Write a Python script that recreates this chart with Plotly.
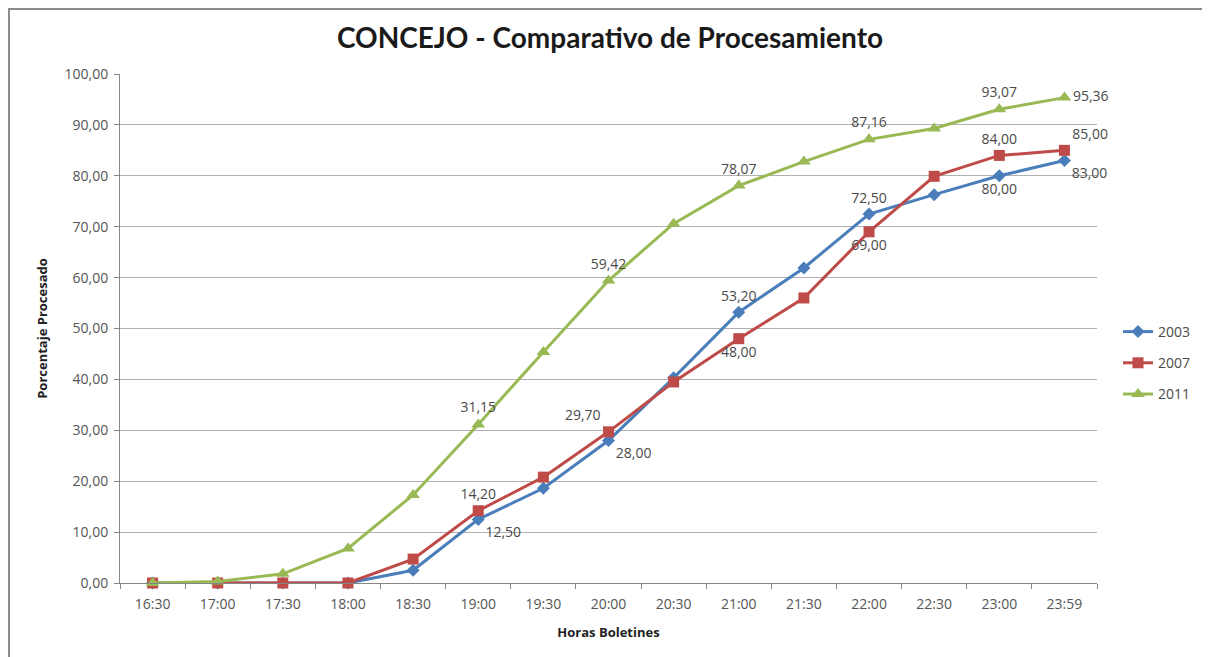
import plotly.graph_objects as go

horas = ["16:30", "17:00", "17:30", "18:00", "18:30", "19:00", "19:30", "20:00",
         "20:30", "21:00", "21:30", "22:00", "22:30", "23:00", "23:59"]
serie_2003 = [0, 0, 0, 0, 2.5, 12.5, 18.6, 28.0, 40.3, 53.2, 61.9, 72.5, 76.3, 80.0, 83.0]
serie_2007 = [0, 0, 0, 0, 4.7, 14.2, 20.8, 29.7, 39.5, 48.0, 56.0, 69.0, 79.9, 84.0, 85.0]
serie_2011 = [0, 0.3, 1.8, 6.8, 17.3, 31.15, 45.4, 59.42, 70.6, 78.07, 82.8, 87.16, 89.3, 93.07, 95.36]

# labelled points: index -> position
lbl_2003 = {5: "bottom right", 7: "bottom right", 9: "top center", 11: "top center", 13: "bottom center", 14: "bottom right"}
lbl_2007 = {5: "top center", 7: "top left", 9: "bottom center", 11: "bottom center", 13: "top center", 14: "top right"}
lbl_2011 = {5: "top center", 7: "top center", 9: "top center", 11: "top center", 13: "top center", 14: "middle right"}

def fmt(v):
    return f"{v:.2f}".replace(".", ",")

def texts(vals, lbl):
    return [fmt(v) if i in lbl else "" for i, v in enumerate(vals)]

def positions(vals, lbl):
    return [lbl.get(i, "top center") for i in range(len(vals))]

FONT = "Open Sans, Arial"
fig = go.Figure()
specs = [
    ("2003", serie_2003, lbl_2003, "#4A7EBB", "diamond", 10),
    ("2007", serie_2007, lbl_2007, "#BE4B48", "square", 11),
    ("2011", serie_2011, lbl_2011, "#98B954", "triangle-up", 12),
]
for name, vals, lbl, color, sym, size in specs:
    fig.add_trace(go.Scatter(
        x=horas, y=vals, name=name, legendgroup=name, mode="lines+markers+text",
        line=dict(color=color, width=3),
        marker=dict(symbol=sym, size=size, color=color),
        text=texts(vals, lbl), textposition=positions(vals, lbl),
        textfont=dict(family=FONT, size=14, color="#4a4a4a"),
        cliponaxis=False,
    ))

# page body has an 8px offset; coordinates below are in figure pixels
PL, PR, PT, PB = 112, 1089, 66, 575
W, H = 1210, 657
pw = PR - PL
ph = PB - PT

fig.update_layout(
    width=W, height=H,
    margin=dict(l=PL, r=W - PR, t=PT, b=H - PB, autoexpand=False),
    paper_bgcolor="white", plot_bgcolor="white",
    separators=",.",
    title=dict(text="<b>CONCEJO - Comparativo de Procesamiento</b>",
               x=602 / W, xanchor="center", y=1 - 30 / H, yanchor="middle",
               font=dict(family="Lato, Open Sans, Arial", size=28, color="#1a1a1a")),
    legend=dict(x=(1110 - PL) / pw, y=(PB - 308) / ph, xanchor="left", yanchor="top",
                font=dict(family=FONT, size=14, color="#4a4a4a"),
                bgcolor="rgba(0,0,0,0)", tracegroupgap=10, itemwidth=30),
    showlegend=True,
    xaxis=dict(type="category", range=[-0.5, 14.5], showgrid=False,
               showline=True, linecolor="#868686", linewidth=1,
               ticks="outside", tickson="boundaries", ticklen=5, tickcolor="#868686",
               ticklabelstandoff=8,
               tickfont=dict(family=FONT, size=14, color="#555555"),
               title=dict(text="<b>Horas Boletines</b>", standoff=16,
                          font=dict(family=FONT, size=13, color="#222222"))),
    yaxis=dict(range=[0, 100], dtick=10, tickformat=".2f",
               showgrid=True, gridcolor="#B0B0B0", gridwidth=1,
               showline=True, linecolor="#868686", linewidth=1,
               ticks="outside", ticklen=5, tickcolor="#868686", zeroline=False,
               ticklabelstandoff=3,
               tickfont=dict(family=FONT, size=14, color="#555555"),
               title=dict(text="<b>Porcentaje Procesado</b>", standoff=13,
                          font=dict(family=FONT, size=13, color="#222222"))),
)

# chart-area border
fig.add_shape(type="rect", xref="paper", yref="paper",
              x0=(1 - PL) / pw, x1=(1199 - PL) / pw,
              y0=(PB - 720) / ph, y1=(PB - 1) / ph,
              line=dict(color="#8C8C8C", width=2), fillcolor="rgba(0,0,0,0)", layer="below")

fig.write_html("out.html")
